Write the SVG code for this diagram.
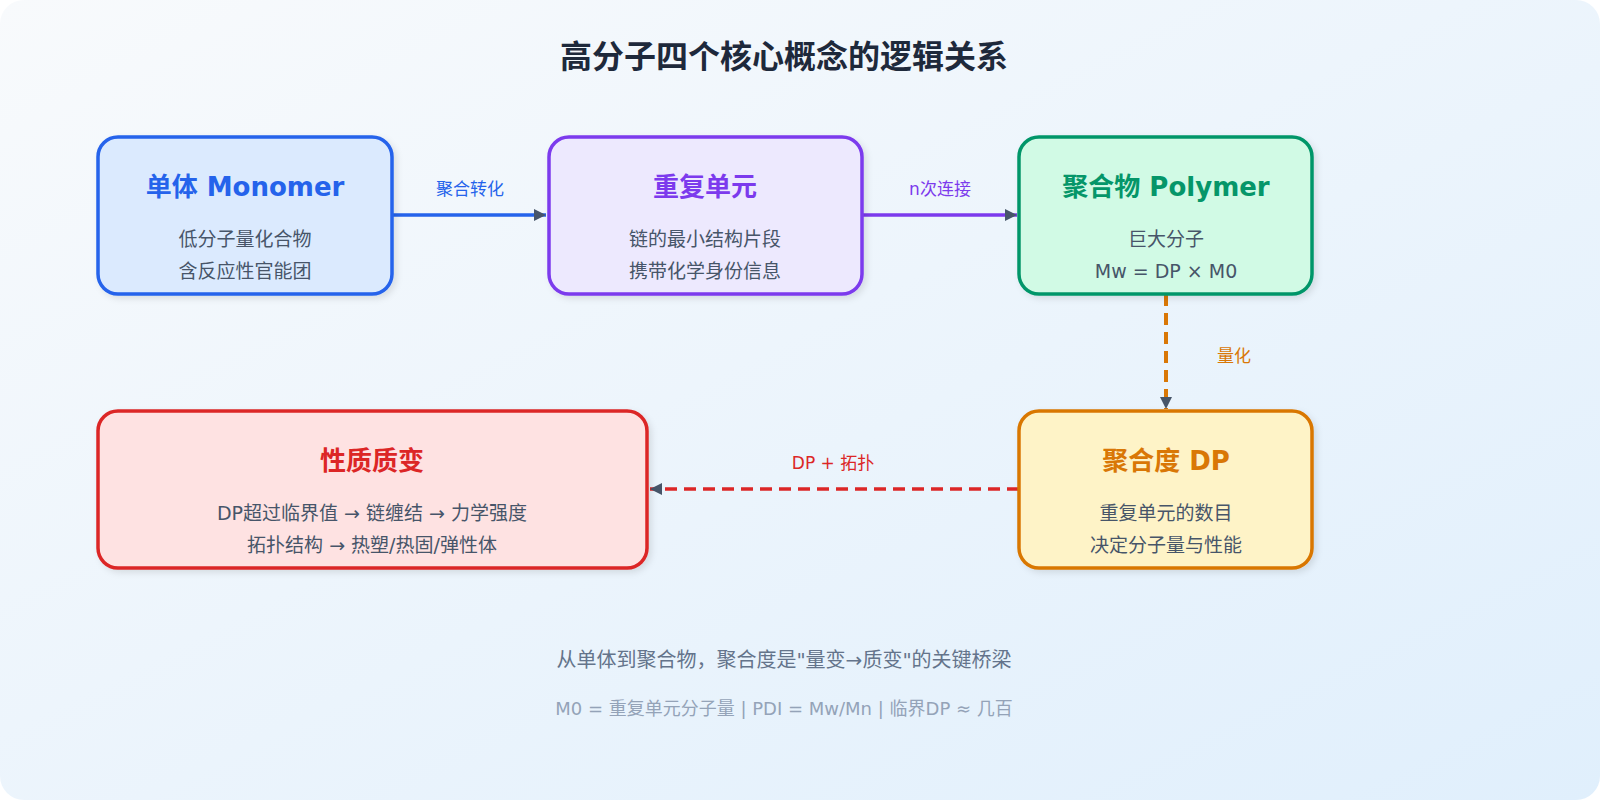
<svg xmlns="http://www.w3.org/2000/svg" width="1600" height="800" viewBox="0 0 1600 800">
<defs>
<linearGradient id="bg" x1="0" y1="0" x2="1" y2="1"><stop offset="0" stop-color="#f8fafc"/><stop offset="1" stop-color="#e0effc"/></linearGradient>
<marker id="ah" markerWidth="12" markerHeight="12" refX="10" refY="5" orient="auto" markerUnits="userSpaceOnUse" viewBox="0 0 10 10"><path d="M0,0 L10,5 L0,10 z" fill="#475569"/></marker>
<filter id="sh" x="-10%" y="-10%" width="130%" height="130%"><feDropShadow dx="3" dy="3" stdDeviation="3" flood-color="#000" flood-opacity="0.1"/></filter>
</defs>
<style>
text{font-family:"DejaVu Sans","Noto Sans CJK SC",sans-serif;text-anchor:middle}
.t{font-size:26px;font-weight:bold}
.s{font-size:19px;fill:#475569}
.l{font-size:17px}
.box{stroke-width:3.5;filter:url(#sh)}
</style>
<rect x="0" y="0" width="1600" height="800" rx="24" fill="url(#bg)"/>
<text x="784" y="68" style="font-size:32px;font-weight:bold;fill:#1e293b">高分子四个核心概念的逻辑关系</text>
<g id="connectors">
<line x1="392" y1="215" x2="546" y2="215" stroke="#2563eb" stroke-width="3.5" marker-end="url(#ah)"/>
<text x="470" y="195" class="l" fill="#2563eb">聚合转化</text>
<line x1="862" y1="215" x2="1017" y2="215" stroke="#7c3aed" stroke-width="3.5" marker-end="url(#ah)"/>
<text x="940" y="195" class="l" fill="#7c3aed">n次连接</text>
<line x1="1166" y1="294" x2="1166" y2="409" stroke="#d97706" stroke-width="4" stroke-dasharray="12,7" marker-end="url(#ah)"/>
<text x="1234" y="362" class="l" fill="#d97706">量化</text>
<line x1="1019" y1="489" x2="650" y2="489" stroke="#dc2626" stroke-width="3.5" stroke-dasharray="12,7" marker-end="url(#ah)"/>
<text x="833" y="469" class="l" fill="#dc2626">DP + 拓扑</text>
</g>
<g id="monomer"><rect class="box" x="98" y="137" width="294" height="157" rx="20" fill="#dbeafe" stroke="#2563eb"/>
<text x="245" y="196" class="t" fill="#2563eb">单体 Monomer</text>
<text x="245" y="246" class="s">低分子量化合物</text><text x="245" y="278" class="s">含反应性官能团</text></g>
<g id="repeat"><rect class="box" x="549" y="137" width="313" height="157" rx="20" fill="#ede9fe" stroke="#7c3aed"/>
<text x="705" y="196" class="t" fill="#7c3aed">重复单元</text>
<text x="705" y="246" class="s">链的最小结构片段</text><text x="705" y="278" class="s">携带化学身份信息</text></g>
<g id="polymer"><rect class="box" x="1019" y="137" width="293" height="157" rx="20" fill="#d1fae5" stroke="#059669"/>
<text x="1166" y="196" class="t" fill="#059669">聚合物 Polymer</text>
<text x="1166" y="246" class="s">巨大分子</text><text x="1166" y="278" class="s">Mw = DP × M0</text></g>
<g id="dp"><rect class="box" x="1019" y="411" width="293" height="157" rx="20" fill="#fef3c7" stroke="#d97706"/>
<text x="1166" y="470" class="t" fill="#d97706">聚合度 DP</text>
<text x="1166" y="520" class="s">重复单元的数目</text><text x="1166" y="552" class="s">决定分子量与性能</text></g>
<g id="property"><rect class="box" x="98" y="411" width="549" height="157" rx="20" fill="#fee2e2" stroke="#dc2626"/>
<text x="372" y="470" class="t" fill="#dc2626">性质质变</text>
<text x="372" y="520" class="s">DP超过临界值 → 链缠结 → 力学强度</text><text x="372" y="552" class="s">拓扑结构 → 热塑/热固/弹性体</text></g>
<text x="784" y="667" style="font-size:20px;fill:#64748b">从单体到聚合物，聚合度是"量变→质变"的关键桥梁</text>
<text x="784" y="715" style="font-size:18px;fill:#94a3b8">M0 = 重复单元分子量 | PDI = Mw/Mn | 临界DP ≈ 几百</text>
</svg>
